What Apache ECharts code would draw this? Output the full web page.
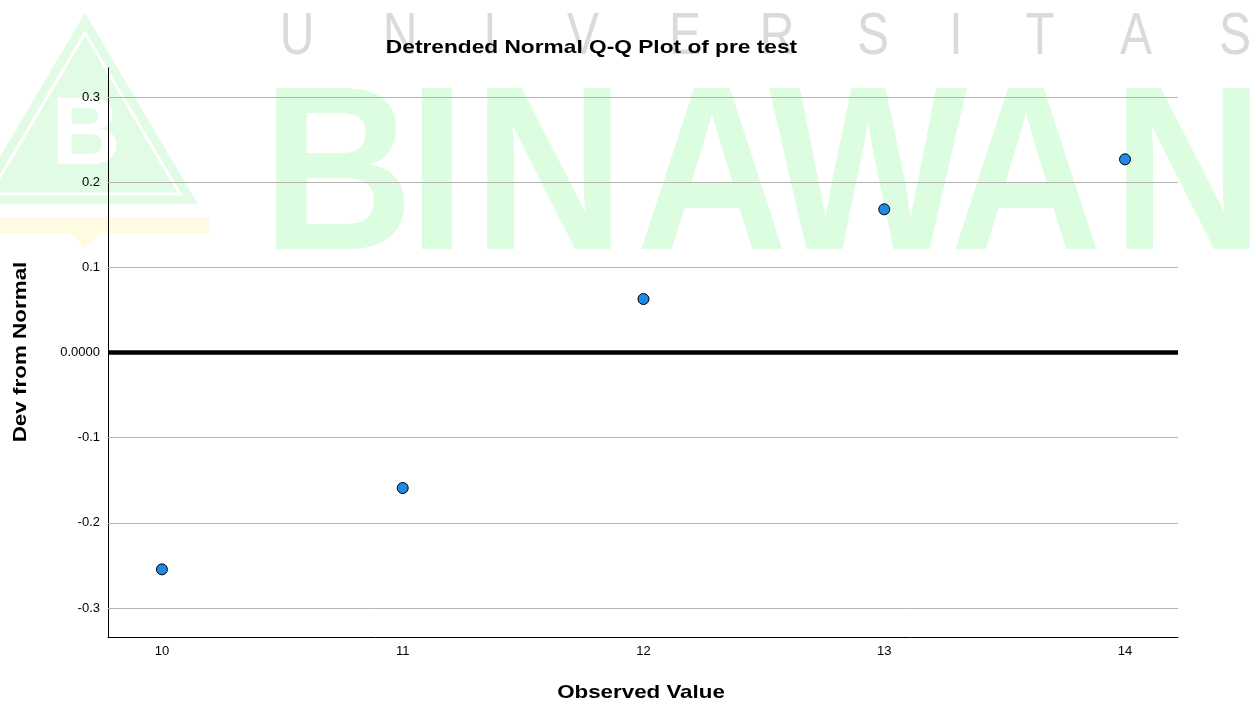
<!DOCTYPE html>
<html>
<head>
<meta charset="utf-8">
<script src="https://cdn.jsdelivr.net/npm/echarts@6/dist/echarts.min.js"></script>
<style>
html,body{margin:0;padding:0;background:#fff;}
#chart{width:1256px;height:710px;}
</style>
</head>
<body>
<div id="chart"></div>
<script>
// ---- data ----
var observedValues = [10, 11, 12, 13, 14];
var devFromNormal = [-0.2546, -0.1591, 0.0628, 0.1681, 0.2268];
var xTicks = [10, 11, 12, 13, 14];
var yTicks = [-0.3, -0.2, -0.1, 0, 0.1, 0.2, 0.3];
var titleText = 'Detrended Normal Q-Q Plot of pre test';
var xName = 'Observed Value';
var yName = 'Dev from Normal';
var watermarkWord = ['B','I','N','A','W','A','N'];
var watermarkSub = ['U','N','I','V','E','R','S','I','T','A','S'];

var chart = echarts.init(document.getElementById('chart'), null, {renderer: 'canvas'});

var points = observedValues.map(function (v, i) { return [v, devFromNormal[i]]; });

var gridLines = yTicks.filter(function (v) { return v !== 0; }).map(function (v) {
  return {yAxis: v, lineStyle: {color: '#b4b4b4', width: 1, type: 'solid'}};
});
gridLines.push({yAxis: 0, lineStyle: {color: '#000', width: 4.5, type: 'solid'}});

var FONT = '"Liberation Sans", Arial, sans-serif';

// ---- decorative watermark (background) ----
var wm = [];
wm.push({
  type: 'polygon', z: -10,
  shape: {points: [[85, 13], [198, 204], [-28, 204]]},
  style: {fill: '#e2fbe5', stroke: null}
});
wm.push({
  type: 'polygon', z: -9,
  shape: {points: [[85, 33], [180, 194], [-10, 194]]},
  style: {fill: 'none', stroke: '#ffffff', lineWidth: 3}
});
wm.push({
  type: 'polygon', z: -10,
  shape: {points: [[0, 217], [210, 217], [210, 233], [100, 233], [85, 248], [70, 233], [0, 233]]},
  style: {fill: '#fffbe2'}
});
wm.push({
  type: 'text', z: -9, x: 86, y: 138,
  style: {text: 'B', fill: '#ffffff', font: 'bold 96px ' + FONT, align: 'center', verticalAlign: 'middle'}
});
var wordCenters = [338, 437, 549, 712, 868, 1026, 1188];
watermarkWord.forEach(function (ch, i) {
  wm.push({
    type: 'text', z: -10, x: wordCenters[i], y: 185, scaleX: 0.9,
    style: {text: ch, fill: '#ddfde0', font: 'bold 233px ' + FONT, align: 'center', verticalAlign: 'middle'}
  });
});
var subCenters = [297, 400, 490, 583, 685, 777, 873, 956, 1040, 1136, 1235];
watermarkSub.forEach(function (ch, i) {
  wm.push({
    type: 'text', z: -10, x: subCenters[i], y: 37, scaleX: 0.8,
    style: {text: ch, fill: '#dadada', font: '60px ' + FONT, align: 'center', verticalAlign: 'middle'}
  });
});

// ---- titles (real text, widened to match the reference's letter widths) ----
var texts = [
  {type: 'text', z: 10, x: 591.5, y: 47.5, scaleX: 1.195,
   style: {text: titleText, fill: '#000', font: 'bold 19px ' + FONT, align: 'center', verticalAlign: 'middle'}},
  {type: 'text', z: 10, x: 641, y: 693, scaleX: 1.176,
   style: {text: xName, fill: '#000', font: 'bold 19px ' + FONT, align: 'center', verticalAlign: 'middle'}},
  {type: 'text', z: 10, x: 21, y: 352, rotation: Math.PI / 2, scaleX: 1.18,
   style: {text: yName, fill: '#000', font: 'bold 19px ' + FONT, align: 'center', verticalAlign: 'middle'}}
];

var option = {
  animation: false,
  backgroundColor: '#ffffff',
  graphic: {elements: wm.concat(texts)},
  grid: {left: 108, right: 78, top: 68, bottom: 73, containLabel: false},
  xAxis: {
    type: 'value',
    min: 9.776, max: 14.22,
    axisLine: {show: true, onZero: false, lineStyle: {color: '#000', width: 1}},
    axisTick: {show: false},
    splitLine: {show: false},
    axisLabel: {
      customValues: xTicks, margin: 8,
      fontFamily: FONT, fontSize: 13, color: '#000',
      formatter: function (v) { return String(v); }
    }
  },
  yAxis: {
    type: 'value',
    min: -0.334, max: 0.334,
    axisLine: {show: true, onZero: false, lineStyle: {color: '#000', width: 1}},
    axisTick: {show: false},
    splitLine: {show: false},
    axisLabel: {
      customValues: yTicks, margin: 8,
      fontFamily: FONT, fontSize: 13, color: '#000',
      formatter: function (v) { return Math.abs(v) < 1e-9 ? '0.0000' : (Math.round(v * 10) / 10).toFixed(1); }
    }
  },
  series: [{
    type: 'scatter',
    data: points,
    symbol: 'circle',
    symbolSize: 11,
    itemStyle: {color: '#1e8ae6', borderColor: '#000', borderWidth: 1, opacity: 1},
    z: 5,
    markLine: {
      silent: true, symbol: ['none', 'none'], animation: false,
      label: {show: false},
      emphasis: {disabled: true},
      data: gridLines
    }
  }]
};
chart.setOption(option);
</script>
</body>
</html>
